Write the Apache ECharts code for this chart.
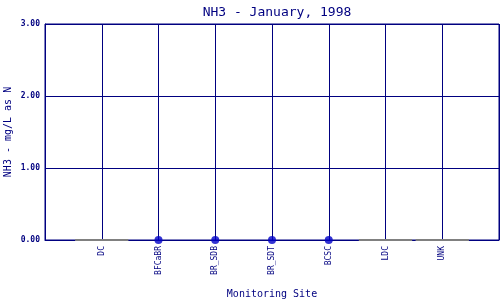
<!DOCTYPE html>
<html><head><meta charset="utf-8">
<script src="https://cdn.jsdelivr.net/npm/echarts@6/dist/echarts.min.js"></script>
<style>html,body{margin:0;padding:0;background:#fff}#c{width:500px;height:300px}</style>
</head><body><div id="c"></div>
<script>
var title = 'NH3 - January, 1998';
var sites = ['DC','BFCaBR','BR_SDB','BR_SDT','BCSC','LDC','UNK'];
var nh3 = [null, 0, 0, 0, 0, null, null];
var yTicks = [0, 1, 2, 3];

var navy = '#000080';
var mono = 'DejaVu Sans Mono';
var cats = [''].concat(sites).concat(['']);
var present = [], missing = [];
nh3.forEach(function(v, i){
  if (v === null) missing.push([i + 1, 0]); else present.push([i + 1, v]);
});

var chart = echarts.init(document.getElementById('c'));
chart.setOption({
  animation: false,
  title: { text: title, left: 272, textAlign: 'center', top: 1,
    textStyle: { fontFamily: mono, fontSize: 13, fontWeight: 'normal', color: navy } },
  grid: { left: 45, right: 1, top: 24, bottom: 60, containLabel: false, outerBoundsMode: 'none',
    show: true, borderColor: navy, borderWidth: 1 },
  xAxis: {
    type: 'category', data: cats, boundaryGap: false,
    name: 'Monitoring Site', nameLocation: 'middle', nameGap: 49, nameMoveOverlap: false,
    nameTextStyle: { fontFamily: mono, fontSize: 10, color: navy },
    axisLine: { lineStyle: { color: navy } },
    axisTick: { show: false },
    axisLabel: { rotate: 90, interval: 0, margin: 6, fontFamily: mono, fontSize: 8, color: navy },
    splitLine: { show: true, lineStyle: { color: navy, width: 1 } }
  },
  yAxis: {
    type: 'value', min: yTicks[0], max: yTicks[yTicks.length - 1], interval: 1,
    name: 'NH3 - mg/L as N', nameLocation: 'middle', nameGap: 32, nameMoveOverlap: false,
    nameTextStyle: { fontFamily: mono, fontSize: 10, color: navy },
    axisLine: { show: true, lineStyle: { color: navy } },
    axisTick: { show: false },
    axisLabel: { margin: 5, fontFamily: mono, fontSize: 8, fontWeight: 'bold', color: navy,
      formatter: function(v){ return v.toFixed(2); } },
    splitLine: { show: true, lineStyle: { color: navy, width: 1 } }
  },
  series: [
    { type: 'custom', data: missing, z: 20, clip: false,
      renderItem: function(params, api){
        var p = api.coord([api.value(0), api.value(1)]);
        var w = api.size([1, 0])[0] * 0.47;
        return { type: 'line', z2: 20, shape: { x1: p[0] - w, y1: p[1], x2: p[0] + w, y2: p[1] },
          style: { stroke: '#808080', lineWidth: 2 } };
      } },
    { type: 'scatter', data: present, symbol: 'circle', symbolSize: 8, z: 21,
      itemStyle: { color: '#0000c8' } }
  ]
});
</script></body></html>
